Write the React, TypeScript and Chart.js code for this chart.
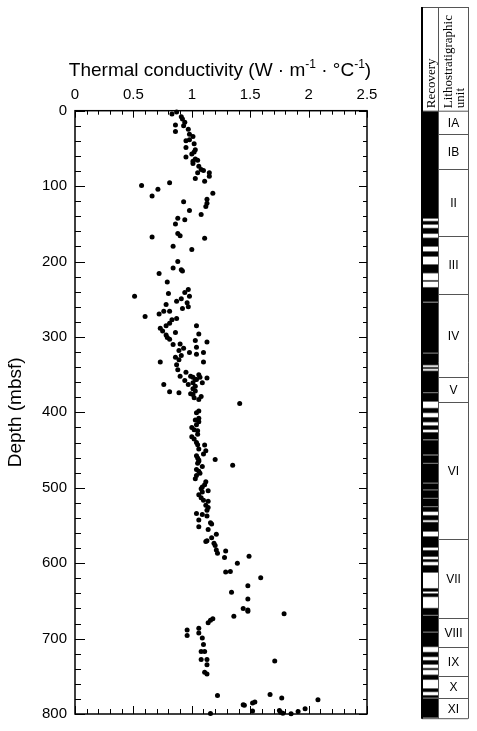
import React, { useEffect, useRef } from 'react';
import { Chart, registerables } from 'chart.js';

Chart.register(...registerables);

// Thermal conductivity (W/m/°C) and depth (mbsf) of each measurement
const conductivity = [
  0.83, 0.87, 0.91, 0.92, 0.94, 0.86, 0.93, 0.86, 0.97, 0.98, 1.01, 0.95, 0.98, 1.02, 0.95, 1.03, 1.02, 1.0, 0.95, 1.03,
  1.01, 1.05, 1.01, 1.06, 1.08, 1.1, 1.05, 1.15, 1.15, 1.03, 1.11, 0.81, 0.57, 0.71, 0.66, 1.18, 1.13, 1.13, 1.12, 0.93,
  0.98, 1.08, 0.88, 0.94, 0.86, 0.88, 0.9, 0.66, 1.11, 0.84, 1.0, 0.88, 0.84, 0.91, 0.92, 0.72, 0.79, 0.8, 0.94, 0.97,
  0.51, 0.87, 0.91, 0.96, 0.98, 0.78, 0.92, 0.97, 0.76, 0.81, 0.72, 0.6, 0.83, 0.87, 0.81, 0.78, 0.73, 0.75, 1.04, 0.86,
  0.78, 0.79, 0.81, 1.06, 1.03, 1.13, 0.84, 0.9, 1.04, 0.93, 0.89, 0.98, 1.04, 1.1, 0.91, 0.86, 0.89, 0.73, 1.1, 0.87,
  0.88, 0.95, 0.9, 0.99, 1.01, 1.06, 1.07, 1.13, 0.94, 1.03, 1.04, 1.09, 1.01, 0.76, 0.97, 1.03, 0.81, 0.89, 0.99, 1.01,
  1.03, 1.08, 1.01, 1.02, 1.06, 1.41, 1.04, 1.06, 1.03, 1.06, 1.06, 1.04, 1.0, 1.02, 1.05, 1.05, 1.0, 1.02, 1.04, 1.05,
  1.06, 1.11, 1.12, 1.1, 1.04, 1.05, 1.06, 1.06, 1.05, 1.2, 1.35, 1.09, 1.04, 1.06, 1.07, 1.04, 1.03, 1.12, 1.11, 1.09,
  1.08, 1.09, 1.14, 1.06, 1.08, 1.1, 1.14, 1.12, 1.14, 1.13, 1.04, 1.09, 1.13, 1.06, 1.06, 1.16, 1.17, 1.14, 1.21, 1.17,
  1.13, 1.12, 1.19, 1.2, 1.21, 1.22, 1.29, 1.28, 1.49, 1.39, 1.29, 1.33, 1.59, 1.34, 1.48, 1.48, 1.36, 1.44, 1.48, 1.48,
  1.79, 1.14, 1.16, 1.18, 0.96, 0.96, 1.06, 1.06, 1.09, 1.1, 1.08, 1.11, 1.08, 1.13, 1.13, 1.11, 1.13, 1.71, 1.22, 1.44,
  1.45, 1.52, 1.54, 1.52, 1.67, 1.77, 1.75, 1.76, 1.78, 1.85, 1.91, 1.97, 2.08, 1.16,
];
const depth = [
  4.3, 1.7, 7.9, 10.9, 15.3, 18.8, 20.1, 27.6, 24.5, 31.1, 34.2, 39.9, 38.6, 43.8, 48.7, 51.7, 54.8, 57.4, 61.3, 64.0,
  67.1, 65.8, 70.1, 73.7, 78.0, 79.3, 82.4, 82.4, 86.8, 89.9, 93.4, 95.5, 99.1, 104.3, 113.2, 109.6, 117.5, 122.8, 127.1, 120.6,
  132.4, 137.6, 142.5, 144.7, 150.4, 162.7, 165.8, 167.5, 169.2, 179.7, 184.2, 200.0, 208.7, 210.9, 212.6, 215.8, 227.1, 242.5, 241.2, 237.2,
  246.0, 252.6, 249.5, 254.7, 246.0, 257.0, 262.2, 260.0, 265.8, 265.8, 269.7, 272.8, 277.1, 275.4, 282.0, 285.0, 288.6, 292.1, 285.0, 294.2,
  297.4, 300.8, 303.0, 296.0, 304.7, 306.6, 310.0, 309.2, 313.6, 314.9, 317.9, 320.5, 322.8, 320.5, 324.5, 327.1, 330.3, 333.3, 333.3, 336.8,
  343.4, 346.8, 352.1, 352.1, 353.4, 350.0, 353.4, 354.3, 357.9, 356.6, 356.6, 360.9, 360.9, 363.2, 363.2, 365.3, 372.8, 374.1, 375.4, 376.3,
  371.8, 378.9, 368.8, 380.7, 382.9, 388.2, 400.4, 398.2, 410.0, 407.9, 412.6, 416.6, 420.1, 423.2, 428.9, 424.5, 432.4, 435.5, 439.9, 442.9,
  448.7, 443.4, 450.8, 455.3, 457.4, 460.5, 463.2, 464.9, 467.5, 462.6, 470.1, 471.8, 475.8, 478.0, 480.7, 483.7, 488.2, 492.1, 496.1, 499.1,
  501.3, 505.7, 503.9, 509.2, 513.2, 516.6, 517.9, 523.2, 526.3, 529.7, 534.2, 535.5, 537.6, 542.9, 551.7, 546.4, 548.2, 555.3, 561.8, 566.2,
  570.1, 571.4, 573.7, 576.7, 582.4, 586.8, 583.7, 592.5, 590.8, 600.0, 611.8, 610.9, 619.2, 638.6, 629.8, 647.4, 670.5, 660.0, 662.2, 663.6,
  667.1, 678.9, 675.8, 673.7, 688.6, 696.0, 686.3, 692.5, 699.1, 707.9, 717.1, 717.1, 727.6, 727.6, 734.6, 744.7, 746.8, 729.8, 775.4, 787.6,
  788.5, 785.5, 784.2, 796.0, 774.0, 778.9, 795.4, 797.6, 798.9, 799.7, 796.7, 793.2, 781.0, 799.5,
];

// Axis ranges / tick steps
const xMin = 0;
const xMax = 2.5;
const xMinorStep = 0.1;
const xMajorStep = 0.5;
const yMin = 0;
const yMax = 800;
const yMinorStep = 20;
const yMajorStep = 100;

// Recovered core intervals (mbsf)
const recoveryTop = [
  0, 145, 154, 167, 185, 202, 223, 232, 252, 319, 337, 342, 371, 391, 403, 414, 423, 433, 453, 464,
  490, 499, 510, 521, 532, 541, 560, 578, 590, 598, 628, 635, 654, 664, 686, 712, 723, 733, 742, 760, 769, 773,
];
const recoveryBottom = [
  142, 150, 162, 179, 192, 214, 225, 252, 319, 335, 340, 371, 383, 398, 410, 420, 433, 453, 464, 490,
  499, 510, 521, 528, 539, 554, 575, 587, 594, 608, 633, 640, 664, 686, 706, 719, 729, 736, 749, 765, 773, 799,
];

// Lithostratigraphic units
const unitNames = ['IA', 'IB', 'II', 'III', 'IV', 'V', 'VI', 'VII', 'VIII', 'IX', 'X', 'XI'];
const unitBoundaries = [0, 31.3, 76.7, 164.9, 241.2, 350.4, 383.3, 563.6, 667.5, 705.7, 743.8, 772.8, 800];

const xTitleParts = [
  { text: 'Thermal conductivity (W · m', sup: false },
  { text: '-1', sup: true },
  { text: ' · °C', sup: false },
  { text: '-1', sup: true },
  { text: ')', sup: false },
];
const yTitle = 'Depth (mbsf)';

const SANS = '"Liberation Sans", Arial, Helvetica, sans-serif';
const SERIF = '"Liberation Serif", "Times New Roman", serif';

const isMultiple = (v: number, step: number) => Math.abs(v / step - Math.round(v / step)) < 1e-6;

const framePlugin = {
  id: 'frameTicks',
  afterDraw(chart: any) {
    const { ctx, chartArea: a, scales } = chart;
    const xs = scales.x;
    const ys = scales.y;
    ctx.save();
    ctx.strokeStyle = '#000';
    ctx.lineWidth = 1;
    ctx.beginPath();
    xs.ticks.forEach((t: any) => {
      const px = Math.round(xs.getPixelForValue(t.value)) + 0.5;
      const major = isMultiple(t.value, xMajorStep);
      const Lt = major ? 7 : 4;
      const Lb = major ? 8 : 5;
      ctx.moveTo(px, a.top);
      ctx.lineTo(px, a.top + Lt);
      ctx.moveTo(px, a.bottom);
      ctx.lineTo(px, a.bottom - Lb);
    });
    ys.ticks.forEach((t: any) => {
      const py = Math.round(ys.getPixelForValue(t.value)) + 0.5;
      const major = isMultiple(t.value, yMajorStep);
      const Ll = major ? 10 : 6;
      const Lr = major ? 8 : 4;
      ctx.moveTo(a.left, py);
      ctx.lineTo(a.left + Ll, py);
      ctx.moveTo(a.right, py);
      ctx.lineTo(a.right - Lr, py);
    });
    ctx.stroke();
    ctx.lineWidth = 1.5;
    ctx.strokeRect(a.left, a.top, a.right - a.left, a.bottom - a.top);

    // x title with superscripts
    ctx.fillStyle = '#000';
    ctx.textBaseline = 'alphabetic';
    ctx.textAlign = 'left';
    const big = `19px ${SANS}`;
    const small = `12px ${SANS}`;
    let total = 0;
    xTitleParts.forEach((p) => {
      ctx.font = p.sup ? small : big;
      total += ctx.measureText(p.text).width;
    });
    let cx = (a.left + a.right) / 2 - total / 2 - 1;
    const base = 76;
    xTitleParts.forEach((p) => {
      ctx.font = p.sup ? small : big;
      ctx.fillText(p.text, cx, p.sup ? base - 8 : base);
      cx += ctx.measureText(p.text).width;
    });

    // y title
    ctx.font = big;
    ctx.translate(21, (a.top + a.bottom) / 2);
    ctx.rotate(-Math.PI / 2);
    ctx.textAlign = 'center';
    ctx.fillText(yTitle, 0, 0);
    ctx.restore();
  },
};

const UNIT_COL_W = 30;

const columnPlugin = {
  id: 'columns',
  afterDraw(chart: any) {
    const { ctx, chartArea: a, scales } = chart;
    const ys = scales.y;
    const left = a.left;
    const mid = a.right;
    const right = a.right + UNIT_COL_W;
    const top = 7;
    const bottom = ys.getPixelForValue(yMax);
    ctx.save();
    // outlines
    ctx.strokeStyle = '#555';
    ctx.lineWidth = 1;
    ctx.beginPath();
    ctx.moveTo(left, top + 0.5);
    ctx.lineTo(right, top + 0.5);
    ctx.moveTo(left, a.top + 0.5);
    ctx.lineTo(right, a.top + 0.5);
    ctx.moveTo(left, bottom);
    ctx.lineTo(right, bottom);
    ctx.moveTo(mid + 0.5, top);
    ctx.lineTo(mid + 0.5, bottom);
    ctx.moveTo(right + 0.5, top);
    ctx.lineTo(right + 0.5, bottom);
    unitBoundaries.slice(1, -1).forEach((b) => {
      const py = Math.round(ys.getPixelForValue(b)) + 0.5;
      ctx.moveTo(mid, py);
      ctx.lineTo(right, py);
    });
    ctx.stroke();
    ctx.strokeStyle = '#000';
    ctx.lineWidth = 2;
    ctx.beginPath();
    ctx.moveTo(left, top);
    ctx.lineTo(left, bottom);
    ctx.stroke();

    // unit labels
    ctx.fillStyle = '#000';
    ctx.font = `12px ${SANS}`;
    ctx.textAlign = 'center';
    ctx.textBaseline = 'middle';
    unitNames.forEach((n, i) => {
      const y0 = ys.getPixelForValue(unitBoundaries[i]);
      const y1 = ys.getPixelForValue(unitBoundaries[i + 1]);
      ctx.fillText(n, (mid + right) / 2 + 0.5, (y0 + y1) / 2 + 1);
    });

    // header (rotated serif text)
    ctx.font = `13px ${SERIF}`;
    ctx.textAlign = 'left';
    ctx.textBaseline = 'alphabetic';
    const drawRot = (text: string, x: number, y: number) => {
      ctx.save();
      ctx.translate(x, y);
      ctx.rotate(-Math.PI / 2);
      ctx.fillText(text, 0, 0);
      ctx.restore();
    };
    drawRot('Recovery', left + 12.5, a.top - 2.5);
    drawRot('Lithostratigraphic', mid + 14, a.top - 2.5);
    drawRot('unit', mid + 25.5, a.top - 2.5);
    ctx.restore();
  },
};

function ConductivityChart() {
  const ref = useRef<HTMLCanvasElement>(null);
  useEffect(() => {
    if (!ref.current) return;
    const points = depth.map((d, i) => ({ x: conductivity[i], y: d }));
    const chart = new Chart(ref.current, {
      type: 'scatter',
      data: {
        datasets: [
          {
            data: points,
            pointRadius: 2.5,
            pointBackgroundColor: '#000',
            pointBorderWidth: 0,
            clip: false,
          } as any,
        ],
      },
      options: {
        animation: false,
        responsive: false,
        maintainAspectRatio: false,
        layout: { padding: { left: 0, right: 33, top: 0, bottom: 12.3 } },
        plugins: { legend: { display: false }, tooltip: { enabled: false } },
        scales: {
          x: {
            type: 'linear',
            position: 'top',
            min: xMin,
            max: xMax,
            grid: { display: false, drawTicks: false },
            border: { display: false },
            ticks: {
              stepSize: xMinorStep,
              autoSkip: false,
              maxRotation: 0,
              padding: 7,
              color: '#000',
              font: { family: SANS, size: 15 },
              callback: (v: any) => (isMultiple(Number(v), xMajorStep) ? String(Math.round(Number(v) * 10) / 10) : ''),
            },
            afterFit: (s: any) => {
              s.height = 110.7;
            },
          },
          y: {
            type: 'linear',
            reverse: true,
            min: yMin,
            max: yMax,
            grid: { display: false, drawTicks: false },
            border: { display: false },
            ticks: {
              stepSize: yMinorStep,
              autoSkip: false,
              padding: 8,
              color: '#000',
              font: { family: SANS, size: 15 },
              callback: (v: any) => (isMultiple(Number(v), yMajorStep) ? String(Math.round(Number(v))) : ''),
            },
            afterFit: (s: any) => {
              s.width = 75;
            },
          },
        },
      } as any,
      plugins: [framePlugin],
    });
    return () => chart.destroy();
  }, []);
  return (
    <canvas
      ref={ref}
      width={400}
      height={731}
      style={{ position: 'absolute', left: 0, top: 0, width: 400, height: 731 }}
    />
  );
}

function RecoveryColumn() {
  const ref = useRef<HTMLCanvasElement>(null);
  useEffect(() => {
    if (!ref.current) return;
    const datasets = recoveryTop.map((t, i) => ({
      data: [[t, recoveryBottom[i]]],
      backgroundColor: '#000',
      borderColor: '#6e6e6e',
      borderWidth: { top: 1, bottom: 1, left: 0, right: 0 },
      borderSkipped: false,
      grouped: false,
      barPercentage: 1,
      categoryPercentage: 1,
    }));
    const chart = new Chart(ref.current, {
      type: 'bar',
      data: { labels: ['Recovery'], datasets: datasets as any },
      options: {
        animation: false,
        responsive: false,
        maintainAspectRatio: false,
        layout: { padding: { left: 22, right: 39, top: 110.7, bottom: 12.3 } },
        plugins: { legend: { display: false }, tooltip: { enabled: false } },
        scales: {
          x: { display: false },
          y: { display: false, min: yMin, max: yMax, reverse: true },
        },
      } as any,
      plugins: [columnPlugin],
    });
    return () => chart.destroy();
  }, []);
  return (
    <canvas
      ref={ref}
      width={77}
      height={731}
      style={{ position: 'absolute', left: 400, top: 0, width: 77, height: 731 }}
    />
  );
}

export default function App() {
  return (
    <div style={{ position: 'absolute', left: 0, top: 0, width: 477, height: 731, background: '#fff', overflow: 'hidden' }}>
      <ConductivityChart />
      <RecoveryColumn />
    </div>
  );
}
